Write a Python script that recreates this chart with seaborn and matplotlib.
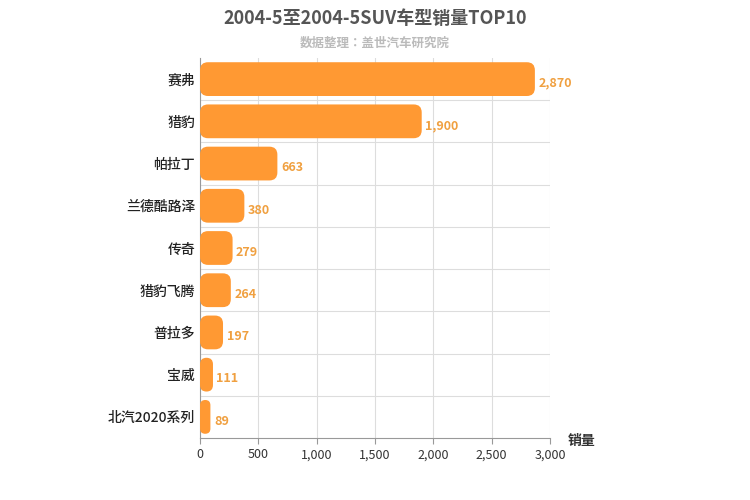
import matplotlib
matplotlib.use("Agg")
import matplotlib.pyplot as plt
from matplotlib import font_manager
import seaborn as sns
import pandas as pd
from matplotlib.patches import FancyBboxPatch

categories = ["赛弗", "猎豹", "帕拉丁", "兰德酷路泽", "传奇", "猎豹飞腾", "普拉多", "宝威", "北汽2020系列"]
sales = [2870, 1900, 663, 380, 279, 264, 197, 111, 89]
xticks = [0, 500, 1000, 1500, 2000, 2500, 3000]

names = {f.name for f in font_manager.fontManager.ttflist}
cjk = [n for n in names if "CJK" in n]
fam = ["Noto Sans CJK SC", "Noto Sans CJK JP", "Noto Sans CJK TC", "Noto Sans CJK KR"] + sorted(cjk) + ["DejaVu Sans"]
fam = [f for f in fam if f in names] or ["DejaVu Sans"]
plt.rcParams["font.family"] = "sans-serif"
plt.rcParams["font.sans-serif"] = fam

df = pd.DataFrame({"cat": categories, "val": sales})
fig = plt.figure(figsize=(7.5, 5), dpi=100)
ax = fig.add_axes([0.2667, 0.124, 0.4667, 0.76])
color = "#FF9933"
sns.barplot(data=df, x="val", y="cat", color=color, ax=ax, width=0.8, saturation=1)

px_x = 350 / 3000
px_y = 42.2
for p in list(ax.patches):
    x, y, w, h = p.get_x(), p.get_y(), p.get_width(), p.get_height()
    r = min(8 / px_x, w / 2)
    asp = (8 / px_y) / (8 / px_x)
    fb = FancyBboxPatch((x, y), w, h, boxstyle=f"round,pad=0,rounding_size={r}",
                        mutation_aspect=asp, fc=color, ec="none", zorder=3)
    p.remove()
    ax.add_patch(fb)

for i, v in enumerate(sales):
    ax.text(v + 30, i + 0.1, f"{v:,}", va="center", ha="left", fontsize=9,
            color="#F0A040", fontweight="bold")

ax.set_xlim(0, 3000)
ax.set_ylim(len(categories) - 0.5, -0.5)
ax.set_xticks(xticks)
ax.set_xticklabels([f"{t:,}" for t in xticks], fontsize=9, color="#333333")
ax.tick_params(axis="y", labelsize=10, length=0, colors="#222222")
for t in ax.get_yticklabels():
    t.set_fontweight("medium")
ax.tick_params(axis="x", length=4, color="#999999")
ax.set_xlabel("")
ax.set_ylabel("")
ax.grid(axis="x", color="#dddddd", zorder=0)
ax.set_axisbelow(True)
for i in range(len(categories) - 1):
    ax.axhline(i + 0.5, color="#dddddd", lw=0.8, zorder=0)
for s in ["top", "right"]:
    ax.spines[s].set_visible(False)
ax.spines["left"].set_color("#999999")
ax.spines["bottom"].set_color("#999999")

fig.text(0.5, 0.962, "2004-5至2004-5SUV车型销量TOP10", ha="center", va="center",
         fontsize=13, fontweight="bold", color="#555555")
fig.text(0.5, 0.914, "数据整理：盖世汽车研究院", ha="center", va="center",
         fontsize=9, fontweight="bold", color="#bbbbbb")
fig.text(0.775, 0.118, "销量", ha="center", va="center", fontsize=10,
         fontweight="bold", color="#333333")
fig.savefig("out.png", dpi=100)
